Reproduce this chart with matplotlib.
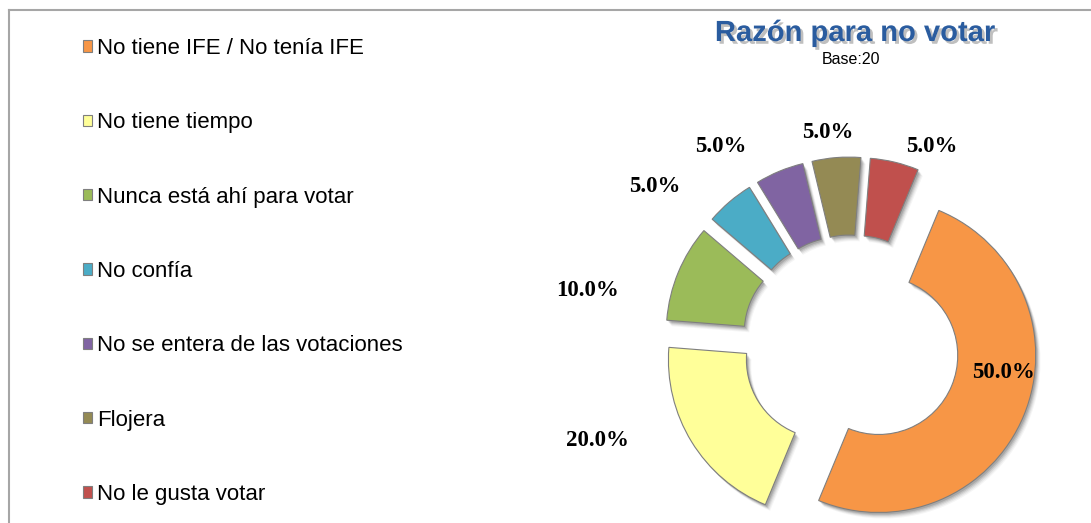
import matplotlib
matplotlib.use("Agg")
import matplotlib.pyplot as plt
from matplotlib.patches import Wedge
from matplotlib.lines import Line2D
import matplotlib.patheffects as pe

# ---------------- data ----------------
categories = [
    "No tiene IFE / No tenía IFE",
    "No tiene tiempo",
    "Nunca está ahí para votar",
    "No confía",
    "No se entera de las votaciones",
    "Flojera",
    "No le gusta votar",
]
values = [50.0, 20.0, 10.0, 5.0, 5.0, 5.0, 5.0]
colors = ["#F79646", "#FFFF99", "#9BBB59", "#4BACC6", "#8064A2", "#948A54", "#C0504D"]
title = "Razón para no votar"
subtitle = "Base:20"

# ---------------- layout (pixels) ----------------
W, H = 1091, 523
center_px = (851, 344)
radius_px = 157
ring_width_px = 78
explode_px = 30
# label centres, in pixels (x, y from top)
label_px = [(1003, 372), (597, 440), (588, 291), (655, 187), (721, 146), (828, 133), (932, 146)]

fig = plt.figure(figsize=(W / 100, H / 100), dpi=100)
ax = fig.add_axes([0, 0, 1, 1])

def py(y):
    return H - y

wedges, texts, autotexts = ax.pie(
    values,
    colors=colors,
    startangle=67.5,
    counterclock=False,
    radius=radius_px,
    center=(center_px[0], py(center_px[1])),
    explode=[explode_px] * len(values),
    wedgeprops=dict(width=ring_width_px, edgecolor="#7f7f7f", linewidth=0.8),
    autopct="%.1f%%",
    frame=True,
    textprops=dict(fontfamily="Liberation Serif", fontweight="bold", fontsize=16.5, color="black"),
)
ax.set_xlim(0, W)
ax.set_ylim(0, H)
ax.set_aspect("equal")
ax.axis("off")

# soft drop shadows
for w in wedges:
    w.set_zorder(3)
    for k, a in [(2, 0.18), (3, 0.14), (4, 0.10), (5, 0.07), (6, 0.05)]:
        s = Wedge((w.center[0] + k * 0.8, w.center[1] - k), w.r, w.theta1, w.theta2,
                  width=w.width, facecolor="#404040", edgecolor="none", alpha=a, zorder=2)
        ax.add_patch(s)

for t, (x, y) in zip(autotexts, label_px):
    t.set_position((x, py(y)))
    t.set_ha("center")
    t.set_va("center")
    t.set_zorder(5)

# title
ax.text(855, py(33), title, ha="center", va="center", fontsize=21, fontweight="bold",
        fontfamily="Liberation Sans", color="#2A5C9F",
        path_effects=[pe.SimplePatchShadow(offset=(2, -2), shadow_rgbFace="#808080", alpha=0.5),
                      pe.Normal()])
ax.text(851, py(59), subtitle, ha="center", va="center", fontsize=11.5,
        fontfamily="Liberation Sans", color="black")

# legend
leg = ax.legend(wedges, categories, loc="upper left",
                bbox_to_anchor=(83 / W, 1 - 38 / H), bbox_transform=fig.transFigure,
                frameon=False, borderpad=0, borderaxespad=0,
                prop=dict(family="Liberation Sans", size=16),
                handlelength=0.42, handleheight=0.42, handletextpad=0.2,
                labelspacing=2.40)

# frame lines
fig.add_artist(Line2D([9 / W, 9 / W], [0, 1 - 10 / H], transform=fig.transFigure,
                      color="#a6a6a6", lw=1.5))
fig.add_artist(Line2D([9 / W, 1], [1 - 10 / H, 1 - 10 / H], transform=fig.transFigure,
                      color="#a6a6a6", lw=1.5))

fig.savefig("out.png", dpi=100, facecolor="white")
